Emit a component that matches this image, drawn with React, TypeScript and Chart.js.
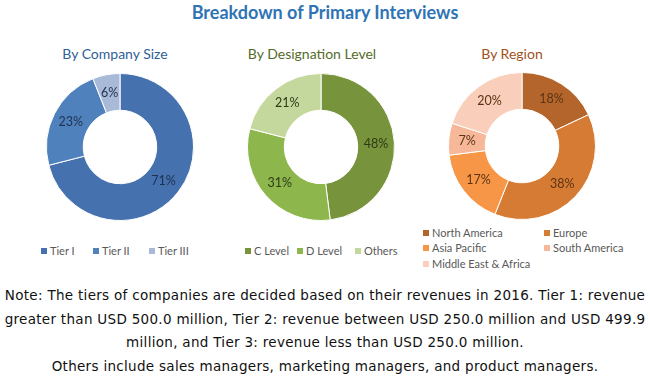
import React, { useEffect, useRef } from 'react';
import { Chart, registerables } from 'chart.js';

Chart.register(...registerables);

const titleText = 'Breakdown of Primary Interviews';

const companyTitle = 'By Company Size';
const companyLabels = ['Tier I', 'Tier II', 'Tier III'];
const companyValues = [71, 23, 6];
const companyColors = ['#4571AE', '#4F81BD', '#A9B9D8'];

const designationTitle = 'By Designation Level';
const designationLabels = ['C Level', 'D Level', 'Others'];
const designationValues = [48, 31, 21];
const designationColors = ['#77933C', '#8DB64C', '#C4D79D'];

const regionTitle = 'By Region';
const regionLabels = ['North America', 'Europe', 'Asia Pacific', 'South America', 'Middle East & Africa'];
const regionValues = [18, 38, 17, 7, 20];
const regionColors = ['#B4652B', '#D67B34', '#F79646', '#F6B898', '#F9CEBA'];

const noteLines = [
  'Note: The tiers of companies are decided based on their revenues in 2016. Tier 1: revenue',
  'greater than USD 500.0 million, Tier 2: revenue between USD 250.0 million and USD 499.9',
  'million, and Tier 3: revenue less than USD 250.0 million.',
  'Others include sales managers, marketing managers, and product managers.',
];

const SIZE = 148;

const arcLabelPlugin = {
  id: 'arcLabels',
  afterDatasetsDraw(chart: any) {
    const ctx = chart.ctx;
    const meta = chart.getDatasetMeta(0);
    const ds = chart.data.datasets[0];
    const color = chart.options.plugins.arcLabels?.color || '#333';
    ctx.save();
    ctx.font = '12.5px Lato, "Open Sans", sans-serif';
    ctx.fillStyle = color;
    ctx.textAlign = 'center';
    ctx.textBaseline = 'middle';
    meta.data.forEach((arc: any, i: number) => {
      const p = arc.tooltipPosition();
      ctx.fillText(ds.data[i] + '%', p.x, p.y);
    });
    ctx.restore();
  },
};

function Donut(props: { values: number[]; labels: string[]; colors: string[]; labelColor: string; cx: number; cy: number }) {
  const ref = useRef<HTMLCanvasElement>(null);
  useEffect(() => {
    if (!ref.current) return;
    const chart = new Chart(ref.current, {
      type: 'doughnut',
      data: {
        labels: props.labels,
        datasets: [
          {
            data: props.values,
            backgroundColor: props.colors,
            borderColor: '#ffffff',
            borderWidth: 1,
          },
        ],
      },
      options: {
        responsive: false,
        animation: false,
        cutout: '50%',
        layout: { padding: 0 },
        plugins: {
          legend: { display: false },
          tooltip: { enabled: false },
          arcLabels: { color: props.labelColor },
        } as any,
      },
      plugins: [arcLabelPlugin],
    });
    return () => chart.destroy();
  }, []);
  return (
    <canvas
      ref={ref}
      width={SIZE}
      height={SIZE}
      style={{ position: 'absolute', left: props.cx - SIZE / 2, top: props.cy - SIZE / 2, width: SIZE, height: SIZE }}
    />
  );
}

const legendText: React.CSSProperties = {
  fontFamily: 'Lato, "Open Sans", sans-serif',
  fontSize: 11,
  color: '#595959',
  whiteSpace: 'nowrap',
  lineHeight: '14px',
};

function LegendItem(props: { label: string; color: string; left: number; top: number }) {
  return (
    <div style={{ position: 'absolute', left: props.left, top: props.top - 7, display: 'flex', alignItems: 'center', ...legendText }}>
      <span style={{ display: 'inline-block', width: 6, height: 6, background: props.color, marginRight: 3 }} />
      <span>{props.label}</span>
    </div>
  );
}

export default function App() {
  useEffect(() => {
    document.body.style.margin = '0';
  }, []);
  const companyLegendX = [41, 93, 149];
  const designationLegendX = [245, 297, 355];
  const regionLegendPos = [
    [423, 233],
    [544, 233],
    [423, 248],
    [544, 248],
    [423, 264],
  ];
  const sub: React.CSSProperties = {
    position: 'absolute',
    top: 45,
    fontFamily: 'Lato, "Open Sans", sans-serif',
    fontSize: 14,
    whiteSpace: 'nowrap',
    transform: 'translateX(-50%)',
  };
  return (
    <div style={{ position: 'relative', width: 650, height: 389, background: '#fff', overflow: 'hidden' }}>
      <div
        style={{
          position: 'absolute',
          left: 0,
          width: 650,
          top: 1,
          textAlign: 'center',
          fontFamily: 'Lato, "Open Sans", sans-serif',
          fontWeight: 'bold',
          fontSize: 18,
          color: '#2E74B5',
        }}
      >
        {titleText}
      </div>
      <div style={{ ...sub, left: 115, color: '#2F5F96' }}>{companyTitle}</div>
      <div style={{ ...sub, left: 312, color: '#556B2A' }}>{designationTitle}</div>
      <div style={{ ...sub, left: 512, color: '#A0521C' }}>{regionTitle}</div>

      <Donut values={companyValues} labels={companyLabels} colors={companyColors} labelColor="#1F3150" cx={120} cy={147} />
      <Donut values={designationValues} labels={designationLabels} colors={designationColors} labelColor="#2E3A18" cx={321} cy={147} />
      <Donut values={regionValues} labels={regionLabels} colors={regionColors} labelColor="#5A3414" cx={522} cy={146} />

      {companyLabels.map((l, i) => (
        <LegendItem key={l} label={l} color={companyColors[i]} left={companyLegendX[i]} top={251} />
      ))}
      {designationLabels.map((l, i) => (
        <LegendItem key={l} label={l} color={designationColors[i]} left={designationLegendX[i]} top={251} />
      ))}
      {regionLabels.map((l, i) => (
        <LegendItem key={l} label={l} color={regionColors[i]} left={regionLegendPos[i][0]} top={regionLegendPos[i][1]} />
      ))}

      {noteLines.map((line, i) => (
        <div
          key={i}
          style={{
            position: 'absolute',
            left: 0,
            width: 650,
            top: 286 + i * 23.5,
            textAlign: 'center',
            fontFamily: '"DejaVu Sans", sans-serif',
            fontSize: 13.5,
            letterSpacing: 0.3,
            color: '#111',
            whiteSpace: 'nowrap',
            lineHeight: '18px',
          }}
        >
          {line}
        </div>
      ))}
    </div>
  );
}
